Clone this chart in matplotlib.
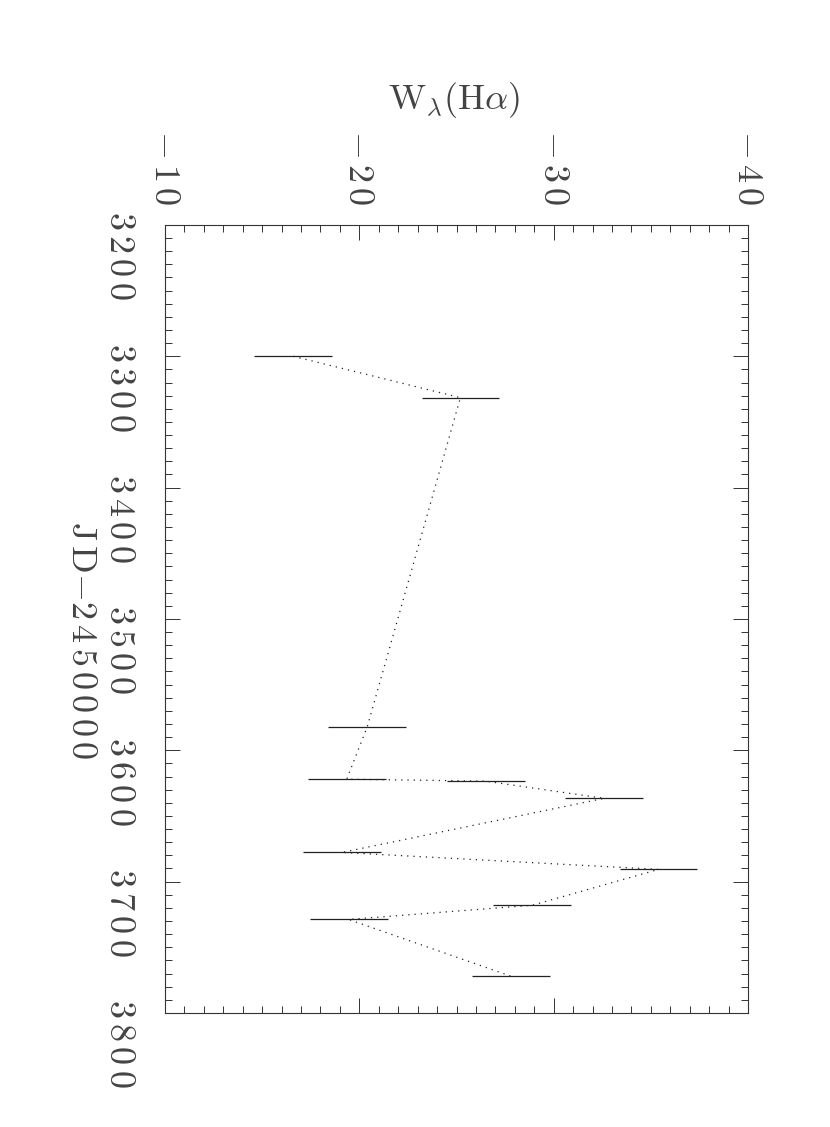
import numpy as np
import matplotlib
matplotlib.use("Agg")
import matplotlib.pyplot as plt
from matplotlib.ticker import MultipleLocator

plt.rcParams['mathtext.fontset'] = 'cm'

# JD-2450000 and equivalent width of H-alpha
jd = [3300.0, 3331.5, 3582.5, 3622.0, 3623.5, 3636.6, 3677.8, 3690.7, 3718.0, 3728.8, 3772.0]
w_ha = [-16.6, -25.2, -20.4, -19.35, -26.5, -32.6, -19.1, -35.4, -28.9, -19.45, -27.8]
w_err = [2.0] * len(jd)

jd_ticks = [3200, 3300, 3400, 3500, 3600, 3700, 3800]
w_ticks = [-10, -20, -30, -40]


def spaced(s):
    # wide letter spacing, like the old plotting font
    return r'\,'.join(s)


fig = plt.figure(figsize=(8.3, 11.27), dpi=100)
ax = fig.add_axes([0.1988, 0.1012, 0.7024, 0.6992])

# the plot is drawn "rotated": time runs down the page, W across it
ax.errorbar(w_ha, jd, xerr=w_err, fmt='none', ecolor='#222222', elinewidth=0.9, capsize=0)
ax.plot(w_ha, jd, color='#222222', lw=0.9, linestyle=(0, (1, 4)))

ax.set_xlim(-10, -40)
ax.set_ylim(3800, 3200)

ax.set_xticks(w_ticks)
ax.set_xticklabels([r'$-\,%s$' % spaced(str(abs(v))) for v in w_ticks])
ax.set_yticks(jd_ticks)
ax.set_yticklabels([r'$%s$' % spaced(str(v)) for v in jd_ticks])
ax.xaxis.set_minor_locator(MultipleLocator(1))
ax.yaxis.set_minor_locator(MultipleLocator(10))

ax.tick_params(which='both', direction='in', top=True, bottom=True, left=True, right=True,
               labeltop=True, labelbottom=False, labelleft=True, labelright=False,
               color='#333333', width=0.7)
ax.tick_params(which='major', length=11)
ax.tick_params(which='minor', length=5)
ax.tick_params(axis='x', which='major', labelrotation=-90, labelsize=26, pad=14, labelcolor='#444444')
ax.tick_params(axis='y', which='major', labelrotation=-90, labelsize=26, pad=20, labelcolor='#444444')

for sp in ax.spines.values():
    sp.set_linewidth(0.8)
    sp.set_color('#333333')

fig.text(454 / 830, 1 - 100 / 1127, r'$\mathrm{W}_{\lambda}(\mathrm{H}\alpha)$',
         ha='center', va='center', fontsize=26, color='#444444')
fig.text(82 / 830, 1 - 640 / 1127, r'$\mathrm{J\,D}{-}%s$' % spaced('2450000'), rotation=-90,
         ha='center', va='center', fontsize=26, color='#444444')

fig.savefig('out.png', dpi=100)
